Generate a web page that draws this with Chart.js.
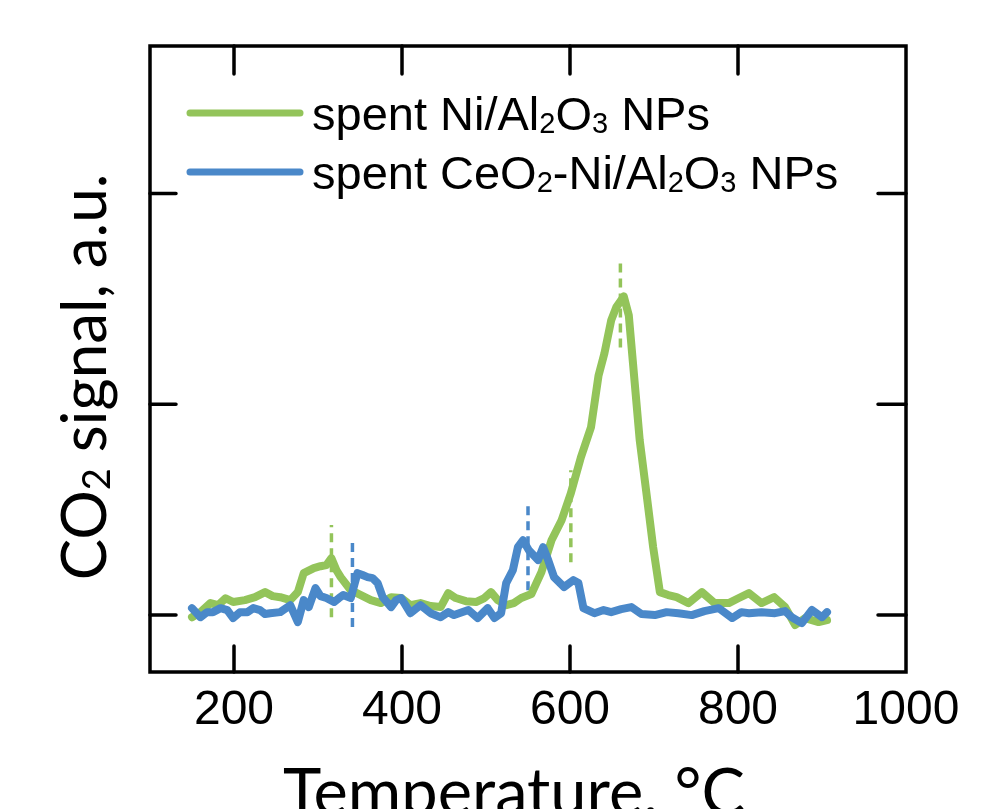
<!DOCTYPE html>
<html>
<head>
<meta charset="utf-8">
<script src="https://cdn.jsdelivr.net/npm/chart.js@4.4.0/dist/chart.umd.min.js"></script>
<style>
  html, body { margin: 0; padding: 0; background: #fff; }
  #wrap { width: 1007px; height: 809px; position: relative; }
</style>
</head>
<body>
<div id="wrap"><canvas id="tprChart"></canvas></div>
<script>
// spent Ni/Al2O3 NPs
const greenT = [150,160,172,181,190,199,213,225,237,246,255,267,276,283,295,303,310,316,322,327,339,351,363,375,387,399,410,422,434,446,455,464,476,488,498,506,514,524,533,542,554,566,578,590,601,613,625,634,641,649,655,664,670,675,683,691,699,707,717,727,741,757,772,789,801,813,828,843,856,868,880,896,906];
const greenV = [-0.01,0.014,0.057,0.047,0.08,0.062,0.071,0.085,0.109,0.09,0.085,0.071,0.109,0.199,0.223,0.232,0.237,0.27,0.213,0.18,0.118,0.095,0.071,0.057,0.085,0.081,0.047,0.057,0.043,0.038,0.104,0.081,0.066,0.062,0.081,0.109,0.071,0.047,0.057,0.081,0.1,0.204,0.355,0.45,0.578,0.749,0.891,1.137,1.242,1.398,1.46,1.512,1.422,1.194,0.829,0.578,0.322,0.109,0.095,0.085,0.057,0.109,0.057,0.057,0.081,0.104,0.057,0.085,0.038,-0.047,-0.014,-0.033,-0.024];

// spent CeO2-Ni/Al2O3 NPs
const blueT = [150,160,168,175,184,192,199,207,216,223,231,237,243,255,267,276,283,289,297,303,310,319,325,330,339,347,353,359,365,371,377,387,393,399,410,422,434,446,455,462,479,490,502,510,518,524,532,538,544,551,562,568,574,581,593,604,610,616,629,640,649,661,673,685,701,715,729,745,760,777,793,804,813,828,844,856,864,876,888,900,906];
const blueV = [0.033,-0.01,0.014,0.014,0.033,0.024,-0.014,0.014,0.014,0.033,0.024,0.005,0.009,0.014,0.047,-0.033,0.071,0.038,0.128,0.09,0.081,0.062,0.081,0.095,0.081,0.199,0.19,0.18,0.175,0.152,0.085,0.038,0.071,0.081,0.009,0.047,0.009,-0.01,0.014,0,0.024,-0.014,0.033,-0.014,0.009,0.152,0.213,0.322,0.355,0.308,0.261,0.322,0.261,0.18,0.133,0.166,0.152,0.033,0.009,0.024,0.014,0.028,0.038,0.005,0,0.014,0.009,0,0.019,0.033,-0.014,0.014,0.009,0.014,0.009,0.019,-0.01,-0.038,0.024,-0.01,0.014];

// dashed peak markers
const markerT = [316, 341, 550, 601, 660];
const markerLow = [-0.01, -0.057, 0.118, 0.251, 1.27];
const markerHigh = [0.427, 0.37, 0.545, 0.687, 1.697];
const markerSeries = ['green', 'blue', 'blue', 'green', 'green'];

const xTicks = [200, 400, 600, 800, 1000];
const yTicks = [0, 1, 2];

const colors = { green: '#93c45a', blue: '#4a88c9' };

function pairs(t, v) {
    return t.map((x, i) => ({ x: x, y: v[i] }));
}

// text with "_2" style subscripts
function richParts(text) {
    return text.split(/(_\d)/).filter(s => s.length).map(s => s[0] === '_' ? { t: s.slice(1), sub: true } : { t: s, sub: false });
}
function richWidth(ctx, text, size, family) {
    let w = 0;
    richParts(text).forEach(p => {
        ctx.font = (p.sub ? Math.round(size * 0.62) : size) + 'px ' + family;
        w += ctx.measureText(p.t).width;
    });
    return w;
}
function drawRich(ctx, text, x, y, size, family) {
    ctx.textAlign = 'left';
    ctx.textBaseline = 'alphabetic';
    richParts(text).forEach(p => {
        ctx.font = (p.sub ? Math.round(size * 0.62) : size) + 'px ' + family;
        ctx.fillText(p.t, x, p.sub ? y + size * 0.06 : y);
        x += ctx.measureText(p.t).width;
    });
}

const legendRows = [
    { text: 'spent Ni/Al_2O_3 NPs', color: colors.green },
    { text: 'spent CeO_2-Ni/Al_2O_3 NPs', color: colors.blue }
];

const framePlugin = {
    id: 'frame',
    afterDraw(chart) {
        const ctx = chart.ctx;
        const a = chart.chartArea;
        const xs = chart.scales.x;
        const ys = chart.scales.y;
        ctx.save();
        ctx.strokeStyle = '#000';
        ctx.lineWidth = 3.5;
        ctx.lineCap = 'round';
        ctx.strokeRect(a.left, a.top, a.right - a.left, a.bottom - a.top);
        ctx.beginPath();
        xTicks.forEach(v => {
            const px = xs.getPixelForValue(v);
            if (px > a.right - 3) return;
            ctx.moveTo(px, a.bottom); ctx.lineTo(px, a.bottom - 26);
            ctx.moveTo(px, a.top); ctx.lineTo(px, a.top + 28);
        });
        yTicks.forEach(v => {
            const py = ys.getPixelForValue(v);
            ctx.moveTo(a.left, py); ctx.lineTo(a.left + 26, py);
            ctx.moveTo(a.right, py); ctx.lineTo(a.right - 28, py);
        });
        ctx.stroke();

        // legend
        ctx.fillStyle = '#000';
        legendRows.forEach((row, i) => {
            const ly = a.top + 67 + i * 59;
            ctx.strokeStyle = row.color;
            ctx.lineWidth = 7;
            ctx.beginPath();
            ctx.moveTo(a.left + 40, ly);
            ctx.lineTo(a.left + 150, ly);
            ctx.stroke();
            drawRich(ctx, row.text, a.left + 162, ly + 17, 47, '"Liberation Sans", Arial, sans-serif');
        });

        // axis titles
        const tf = 'Lato, sans-serif';
        const xTitle = 'Temperature, °C';
        const xw = richWidth(ctx, xTitle, 65, tf);
        drawRich(ctx, xTitle, 514 - xw / 2, 815, 65, tf);

        const yTitle = 'CO_2 signal, a.u.';
        const yw = richWidth(ctx, yTitle, 62, tf);
        ctx.translate(106, 377);
        ctx.rotate(-Math.PI / 2);
        drawRich(ctx, yTitle, -yw / 2, 0, 62, tf);
        ctx.restore();
    }
};

const datasets = [
    {
        label: 'spent Ni/Al2O3 NPs',
        data: pairs(greenT, greenV),
        borderColor: colors.green,
        borderWidth: 8,
        order: 1
    },
    {
        label: 'spent CeO2-Ni/Al2O3 NPs',
        data: pairs(blueT, blueV),
        borderColor: colors.blue,
        borderWidth: 8,
        order: 0
    }
];
markerT.forEach((t, i) => {
    datasets.push({
        label: 'marker',
        data: [{ x: t, y: markerLow[i] }, { x: t, y: markerHigh[i] }],
        borderColor: colors[markerSeries[i]],
        borderWidth: 3.5,
        borderDash: [9, 6],
        borderCapStyle: 'butt',
        order: 2
    });
});

const ctx = document.getElementById('tprChart').getContext('2d');
const tprChart = new Chart(ctx, {
    type: 'line',
    data: { datasets: datasets },
    options: {
        responsive: true,
        maintainAspectRatio: false,
        animation: false,
        layout: { padding: { top: 46, right: 101, left: 0, bottom: 0 } },
        elements: {
            point: { radius: 0 },
            line: { tension: 0, borderJoinStyle: 'round', borderCapStyle: 'round' }
        },
        plugins: {
            legend: { display: false },
            tooltip: { enabled: false }
        },
        scales: {
            x: {
                type: 'linear',
                min: 100,
                max: 1000,
                grid: { display: false, drawTicks: false },
                border: { display: false },
                afterBuildTicks: s => { s.ticks = xTicks.map(v => ({ value: v })); },
                afterFit: s => { s.height = 137; },
                ticks: {
                    padding: 10,
                    maxRotation: 0,
                    color: '#000',
                    font: { family: "'Liberation Sans', Arial, sans-serif", size: 48 },
                    callback: v => String(v)
                }
            },
            y: {
                type: 'linear',
                min: -0.27,
                max: 2.70,
                grid: { display: false, drawTicks: false },
                border: { display: false },
                afterBuildTicks: s => { s.ticks = yTicks.map(v => ({ value: v })); },
                afterFit: s => { s.width = 150; },
                ticks: { display: false }
            }
        }
    },
    plugins: [framePlugin]
});
</script>
</body>
</html>
